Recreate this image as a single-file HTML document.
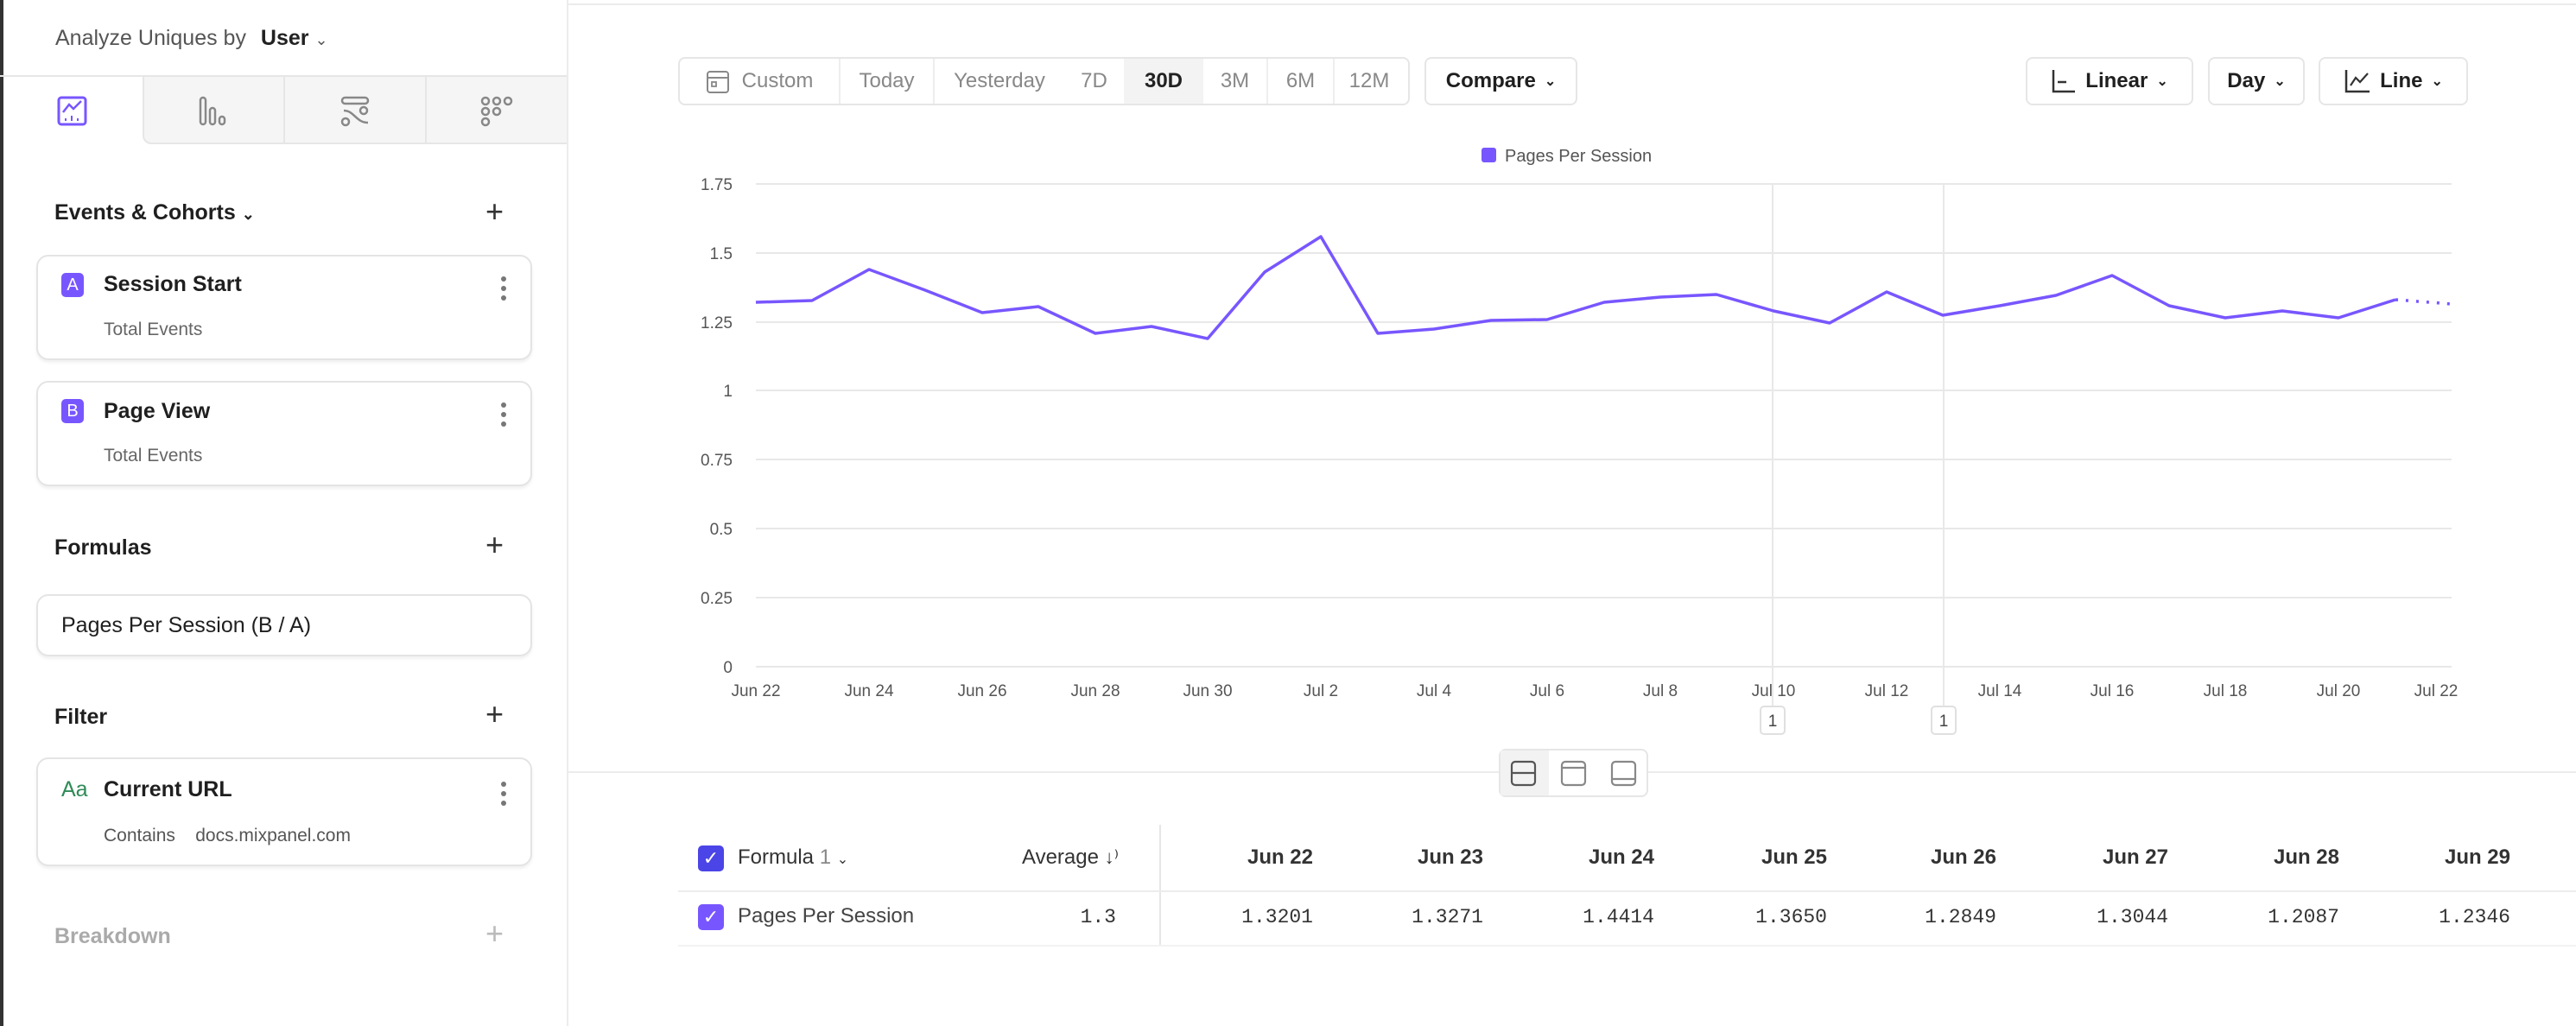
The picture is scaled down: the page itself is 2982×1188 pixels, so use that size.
<!DOCTYPE html>
<html><head><meta charset="utf-8"><style>
*{box-sizing:border-box;margin:0;padding:0}
body{width:2982px;height:1188px;background:#fff;font-family:"Liberation Sans",sans-serif;color:#1f1f1f;position:relative;overflow:hidden}
.a{position:absolute;white-space:nowrap}
.card{position:absolute;border:2px solid #e4e4e4;border-radius:14px;background:#fff;box-shadow:0 3px 3px rgba(0,0,0,.06)}
.t{font-size:25px}
.g{color:#666}
.btn{position:absolute;border:2px solid #e6e6e6;border-radius:8px;height:56px;top:66px;font-size:24px;display:flex;align-items:center;justify-content:center;gap:10px}
.badge{position:absolute;width:26px;height:28px;border-radius:5px;background:#7856ff;color:#fff;font-size:20px;text-align:center;line-height:28px}
.dots{position:absolute;width:6px;font-size:0}
.dots i{display:block;width:6px;height:6px;border-radius:3px;background:#777;margin-bottom:5px}
.plus{position:absolute;font-size:36px;font-weight:300;color:#333}
.mono{font-family:"Liberation Mono",monospace;font-size:23px;color:#333}
</style></head><body>
<div class="a" style="left:0;top:0;width:4px;height:1188px;background:#333"></div>
<div class="a" style="left:656px;top:0;width:2px;height:1188px;background:#ececec"></div>
<div class="a" style="left:656px;top:4px;width:2326px;height:2px;background:#ececec"></div>
<div class="a t" style="left:64px;top:30px;color:#555">Analyze Uniques by <b style="color:#222;font-weight:600;margin-left:10px">User</b> <span style="font-size:18px">⌄</span></div>
<div class="a" style="left:0;top:87px;width:656px;height:2px;background:#e6e6e6"></div>
<div class="a" style="left:165px;top:89px;width:491px;height:78px;background:#f5f5f5;border-left:2px solid #e6e6e6;border-bottom:2px solid #e6e6e6;border-bottom-left-radius:10px"></div>
<div class="a" style="left:328px;top:89px;width:2px;height:78px;background:#e6e6e6"></div>
<div class="a" style="left:492px;top:89px;width:2px;height:78px;background:#e6e6e6"></div>
<svg class="a" style="left:0;top:0" width="656" height="170">
<rect x="68" y="113" width="31" height="31" rx="3" fill="none" stroke="#7856ff" stroke-width="3"/><polyline points="73,130 80,121 85,126 94,117" fill="none" stroke="#7856ff" stroke-width="2.5"/>
<g stroke="#7856ff" stroke-width="2"><line x1="76" y1="137" x2="76" y2="140"/><line x1="83" y1="134" x2="83" y2="140"/><line x1="90" y1="137" x2="90" y2="140"/></g>
<g fill="none" stroke="#888" stroke-width="2.5"><rect x="232" y="113" width="6" height="31" rx="3"/><rect x="243" y="125" width="6" height="19" rx="3"/><rect x="254" y="135" width="6" height="9" rx="3"/>
<rect x="396" y="113" width="30" height="7" rx="3.5"/><path d="M398 128 C410 128 412 142 426 142"/><circle cx="421" cy="128" r="4"/><circle cx="400" cy="141" r="4"/>
<circle cx="562" cy="117" r="4"/><circle cx="575" cy="117" r="4"/><circle cx="588" cy="117" r="4"/><circle cx="562" cy="129" r="4"/><circle cx="575" cy="129" r="4"/><circle cx="562" cy="141" r="4"/></g></svg>

<div class="a t" style="left:63px;top:232px;font-weight:600">Events &amp; Cohorts <span style="font-size:18px">⌄</span></div>
<div class="plus a" style="left:562px;top:224px">+</div>
<div class="card" style="left:42px;top:295px;width:574px;height:122px"></div>
<div class="badge" style="left:71px;top:316px">A</div>
<div class="a t" style="left:120px;top:315px;font-weight:600">Session Start</div>
<div class="a g" style="left:120px;top:370px;font-size:21px">Total Events</div>
<div class="dots" style="left:580px;top:320px"><i></i><i></i><i></i></div>
<div class="card" style="left:42px;top:441px;width:574px;height:122px"></div>
<div class="badge" style="left:71px;top:462px">B</div>
<div class="a t" style="left:120px;top:462px;font-weight:600">Page View</div>
<div class="a g" style="left:120px;top:516px;font-size:21px">Total Events</div>
<div class="dots" style="left:580px;top:466px"><i></i><i></i><i></i></div>

<div class="a t" style="left:63px;top:620px;font-weight:600">Formulas</div>
<div class="plus a" style="left:562px;top:610px">+</div>
<div class="card" style="left:42px;top:688px;width:574px;height:72px"></div>
<div class="a t" style="left:71px;top:710px">Pages Per Session (B / A)</div>

<div class="a t" style="left:63px;top:816px;font-weight:600">Filter</div>
<div class="plus a" style="left:562px;top:806px">+</div>
<div class="card" style="left:42px;top:877px;width:574px;height:126px"></div>
<div class="a t" style="left:71px;top:900px;color:#2e8b57">Aa</div>
<div class="a t" style="left:120px;top:900px;font-weight:600">Current URL</div>
<div class="a" style="left:120px;top:956px;font-size:21px;color:#555">Contains &nbsp;&nbsp;&nbsp;docs.mixpanel.com</div>
<div class="dots" style="left:580px;top:905px"><i></i><i></i><i></i></div>
<div class="a t" style="left:63px;top:1070px;font-weight:600;color:#aaa">Breakdown</div>
<div class="plus a" style="left:562px;top:1060px;color:#bbb">+</div>

<!-- toolbar -->
<div class="btn" style="left:785px;width:847px;color:#888;justify-content:flex-start;gap:0">
 <div style="width:186px;height:100%;display:flex;align-items:center;justify-content:center;gap:14px;border-right:2px solid #eee"><svg width="28" height="30"><rect x="2" y="4" width="24" height="24" rx="3" fill="none" stroke="#888" stroke-width="2"/><line x1="2" y1="11" x2="26" y2="11" stroke="#888" stroke-width="2"/><rect x="7" y="16" width="5" height="5" fill="none" stroke="#888" stroke-width="1.8"/></svg>Custom</div>
 <div style="width:109px;text-align:center;border-right:2px solid #eee;height:100%;line-height:52px">Today</div>
 <div style="width:150px;text-align:center;height:100%;line-height:52px">Yesterday</div>
 <div style="width:69px;text-align:center;height:100%;line-height:52px">7D</div>
 <div style="width:92px;text-align:center;height:100%;line-height:52px;background:#f3f3f3;color:#222;font-weight:600">30D</div>
 <div style="width:75px;text-align:center;height:100%;line-height:52px;border-right:2px solid #eee">3M</div>
 <div style="width:77px;text-align:center;height:100%;line-height:52px;border-right:2px solid #eee">6M</div>
 <div style="width:80px;text-align:center;height:100%;line-height:52px">12M</div>
</div>
<div class="btn" style="left:1649px;width:177px;font-weight:600">Compare <span style="font-size:16px">⌄</span></div>
<div class="btn" style="left:2345px;width:194px;font-weight:600"><svg width="30" height="30"><path d="M3 2 V27 H28" fill="none" stroke="#333" stroke-width="2.5"/><line x1="8" y1="16" x2="18" y2="16" stroke="#333" stroke-width="2.5"/></svg>Linear <span style="font-size:16px">⌄</span></div>
<div class="btn" style="left:2556px;width:112px;font-weight:600">Day <span style="font-size:16px">⌄</span></div>
<div class="btn" style="left:2684px;width:173px;font-weight:600"><svg width="32" height="30"><path d="M3 2 V27 H30" fill="none" stroke="#333" stroke-width="2.5"/><polyline points="8,20 14,11 19,16 28,6" fill="none" stroke="#333" stroke-width="2.2"/></svg>Line <span style="font-size:16px">⌄</span></div>

<!-- chart -->
<svg class="a" style="left:0;top:0" width="2982" height="870" font-family="Liberation Sans, sans-serif">
<rect x="1715" y="171" width="17" height="17" rx="3" fill="#7856ff"/>
<text x="1742" y="187" font-size="20" fill="#555">Pages Per Session</text>
<g stroke="#e8e8e8" stroke-width="2">
<line x1="875" y1="213" x2="2838" y2="213"/><line x1="875" y1="293" x2="2838" y2="293"/><line x1="875" y1="373" x2="2838" y2="373"/><line x1="875" y1="452" x2="2838" y2="452"/><line x1="875" y1="532" x2="2838" y2="532"/><line x1="875" y1="612" x2="2838" y2="612"/><line x1="875" y1="692" x2="2838" y2="692"/><line x1="875" y1="772" x2="2838" y2="772"/>
<line x1="2052" y1="213" x2="2052" y2="820"/><line x1="2250" y1="213" x2="2250" y2="820"/>
</g>
<g font-size="19" fill="#555" text-anchor="end">
<text x="848" y="220">1.75</text><text x="848" y="300">1.5</text><text x="848" y="380">1.25</text><text x="848" y="459">1</text><text x="848" y="539">0.75</text><text x="848" y="619">0.5</text><text x="848" y="699">0.25</text><text x="848" y="779">0</text>
</g>
<g font-size="19" fill="#555" text-anchor="middle">
<text x="875" y="806">Jun 22</text><text x="1006" y="806">Jun 24</text><text x="1137" y="806">Jun 26</text><text x="1268" y="806">Jun 28</text><text x="1398" y="806">Jun 30</text><text x="1529" y="806">Jul 2</text><text x="1660" y="806">Jul 4</text><text x="1791" y="806">Jul 6</text><text x="1922" y="806">Jul 8</text><text x="2053" y="806">Jul 10</text><text x="2184" y="806">Jul 12</text><text x="2315" y="806">Jul 14</text><text x="2445" y="806">Jul 16</text><text x="2576" y="806">Jul 18</text><text x="2707" y="806">Jul 20</text><text x="2820" y="806">Jul 22</text>
</g>
<polyline fill="none" stroke="#7856ff" stroke-width="3.5" stroke-linejoin="round" points="875,350 940,348 1006,312 1071,336 1137,362 1202,355 1268,386 1333,378 1398,392 1464,315 1529,274 1595,386 1660,381 1726,371 1791,370 1857,350 1922,344 1987,341 2053,360 2118,374 2184,338 2249,365 2315,354 2380,342 2445,319 2511,354 2576,368 2642,360 2707,368 2773,347"/>
<polyline fill="none" stroke="#7856ff" stroke-width="3.5" stroke-dasharray="3,9" points="2773,347 2838,352"/>
<g fill="#fff" stroke="#e0e0e0" stroke-width="2"><rect x="2038" y="818" width="28" height="32" rx="4"/><rect x="2236" y="818" width="28" height="32" rx="4"/></g>
<g font-size="19" fill="#444" text-anchor="middle"><text x="2052" y="841">1</text><text x="2250" y="841">1</text></g>
</svg>
<div class="a" style="left:658px;top:893px;width:2324px;height:2px;background:#ececec"></div>
<div class="a" style="left:1735px;top:867px;width:173px;height:56px;border:2px solid #e6e6e6;border-radius:8px;background:#fff"></div>
<div class="a" style="left:1737px;top:869px;width:56px;height:52px;background:#f2f2f2"></div>
<svg class="a" style="left:1735px;top:867px" width="173" height="56"><g fill="none" stroke="#555" stroke-width="2.2"><rect x="15" y="15" width="27" height="27" rx="4"/><line x1="15" y1="28" x2="42" y2="28"/><rect x="73" y="15" width="27" height="27" rx="4" stroke="#888"/><line x1="73" y1="22" x2="100" y2="22" stroke="#888"/><rect x="131" y="15" width="27" height="27" rx="4" stroke="#888"/><line x1="131" y1="35" x2="158" y2="35" stroke="#888"/></g></svg>

<!-- table -->
<div class="a" style="left:1342px;top:955px;width:2px;height:140px;background:#e6e6e6"></div>
<div class="a" style="left:785px;top:1031px;width:2197px;height:2px;background:#ececec"></div>
<div class="a" style="left:785px;top:1094px;width:2197px;height:2px;background:#f2f2f2"></div>
<div class="a" style="left:808px;top:979px;width:30px;height:30px;border-radius:5px;background:#4b44e6;color:#fff;font-size:22px;text-align:center;line-height:30px">✓</div>
<div class="a" style="left:854px;top:979px;font-size:24px;color:#333">Formula <span style="color:#888">1</span> <span style="font-size:16px">⌄</span></div>
<div class="a" style="left:1183px;top:979px;font-size:24px;color:#333">Average <span style="font-size:22px">↓⁾</span></div>
<div class="a" style="left:808px;top:1047px;width:30px;height:30px;border-radius:5px;background:#7856ff;color:#fff;font-size:22px;text-align:center;line-height:30px">✓</div>
<div class="a" style="left:854px;top:1047px;font-size:24px;color:#444">Pages Per Session</div>
<div class="a mono" style="left:1230px;top:1049px;width:62px;text-align:right">1.3</div>
<div class="a" style="left:1420px;top:979px;width:1490px;font-size:24px;font-weight:600;color:#333">
<span class="a" style="left:0;width:100px;text-align:right">Jun 22</span><span class="a" style="left:197px;width:100px;text-align:right">Jun 23</span><span class="a" style="left:395px;width:100px;text-align:right">Jun 24</span><span class="a" style="left:595px;width:100px;text-align:right">Jun 25</span><span class="a" style="left:791px;width:100px;text-align:right">Jun 26</span><span class="a" style="left:990px;width:100px;text-align:right">Jun 27</span><span class="a" style="left:1188px;width:100px;text-align:right">Jun 28</span><span class="a" style="left:1386px;width:100px;text-align:right">Jun 29</span></div>
<div class="a mono" style="left:1420px;top:1049px;width:1490px">
<span class="a" style="left:0;width:100px;text-align:right">1.3201</span><span class="a" style="left:197px;width:100px;text-align:right">1.3271</span><span class="a" style="left:395px;width:100px;text-align:right">1.4414</span><span class="a" style="left:595px;width:100px;text-align:right">1.3650</span><span class="a" style="left:791px;width:100px;text-align:right">1.2849</span><span class="a" style="left:990px;width:100px;text-align:right">1.3044</span><span class="a" style="left:1188px;width:100px;text-align:right">1.2087</span><span class="a" style="left:1386px;width:100px;text-align:right">1.2346</span></div>
</body></html>
